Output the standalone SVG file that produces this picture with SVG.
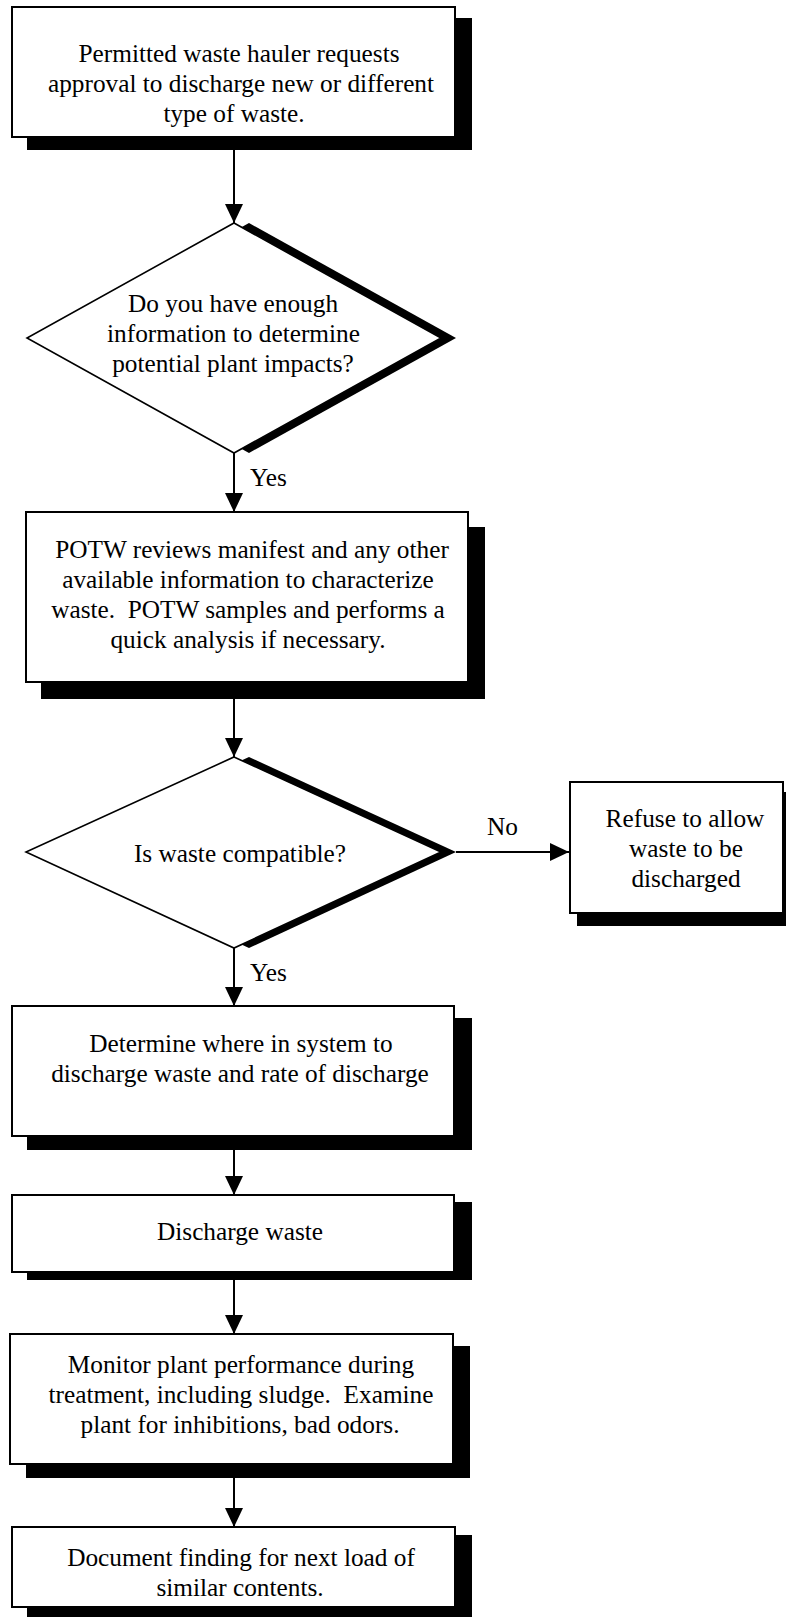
<svg xmlns="http://www.w3.org/2000/svg" width="786" height="1617" viewBox="0 0 786 1617">
<defs>
<style>
.box{fill:#fff;stroke:#000;stroke-width:2}
.shadow{fill:#000}
.dia{fill:#fff;stroke:#000;stroke-width:1.6}
.t{font-family:"Liberation Serif","Times New Roman",serif;font-size:25.3px;fill:#000;text-anchor:middle;white-space:pre}
.lbl{font-family:"Liberation Serif","Times New Roman",serif;font-size:25.3px;fill:#000}
.conn{stroke:#000;stroke-width:2;fill:none}
</style>
<marker id="arr" markerUnits="userSpaceOnUse" markerWidth="19" markerHeight="18" refX="19" refY="9" orient="auto">
<path d="M0,0 L19,9 L0,18 z" fill="#000"/>
</marker>
</defs>
<rect width="786" height="1617" fill="#fff"/>

<g id="n1">
<rect class="shadow" x="27" y="18" width="445" height="132"/>
<rect class="box" x="12" y="7" width="443" height="130"/>
<text class="t" x="239" y="61.5">Permitted waste hauler requests</text>
<text class="t" x="241" y="91.5">approval to discharge new or different</text>
<text class="t" x="234" y="121.5">type of waste.</text>
</g>

<g id="d1">
<polygon class="shadow" points="249,223 456,338 249,453 42,338"/>
<polygon class="dia" points="234,223 441,338 234,453 27,338"/>
<text class="t" x="233" y="312">Do you have enough</text>
<text class="t" x="233.5" y="342">information to determine</text>
<text class="t" x="233" y="372">potential plant impacts?</text>
</g>

<g id="n2">
<rect class="shadow" x="41" y="527" width="444" height="172"/>
<rect class="box" x="26" y="512" width="442" height="170"/>
<text class="t" x="252" y="558">POTW reviews manifest and any other</text>
<text class="t" x="248" y="588">available information to characterize</text>
<text class="t" x="248" y="618" xml:space="preserve">waste.  POTW samples and performs a</text>
<text class="t" x="248" y="648">quick analysis if necessary.</text>
</g>

<g id="d2">
<polygon class="shadow" points="249,757 456,852 249,948 41,852"/>
<polygon class="dia" points="234,757 441,852 234,948 26,852"/>
<text class="t" x="240" y="862">Is waste compatible?</text>
</g>

<g id="n3">
<rect class="shadow" x="577" y="792" width="215" height="134"/>
<rect class="box" x="570" y="782" width="213" height="131"/>
<text class="t" x="685" y="827">Refuse to allow</text>
<text class="t" x="686" y="857">waste to be</text>
<text class="t" x="686" y="887">discharged</text>
</g>

<g id="n4">
<rect class="shadow" x="27" y="1018" width="445" height="132"/>
<rect class="box" x="12" y="1006" width="442" height="130"/>
<text class="t" x="241" y="1052">Determine where in system to</text>
<text class="t" x="240" y="1082">discharge waste and rate of discharge</text>
</g>

<g id="n5">
<rect class="shadow" x="27" y="1202" width="445" height="78"/>
<rect class="box" x="12" y="1195" width="442" height="77"/>
<text class="t" x="240" y="1240">Discharge waste</text>
</g>

<g id="n6">
<rect class="shadow" x="26" y="1346" width="444" height="132"/>
<rect class="box" x="10" y="1334" width="443" height="130"/>
<text class="t" x="241" y="1373">Monitor plant performance during</text>
<text class="t" x="241" y="1403" xml:space="preserve">treatment, including sludge.  Examine</text>
<text class="t" x="240" y="1433">plant for inhibitions, bad odors.</text>
</g>

<g id="n7">
<rect class="shadow" x="27" y="1535" width="445" height="90"/>
<rect class="box" x="12" y="1527" width="443" height="80"/>
<text class="t" x="241" y="1566">Document finding for next load of</text>
<text class="t" x="240" y="1596">similar contents.</text>
</g>

<g id="connectors">
<line class="conn" x1="234" y1="150" x2="234" y2="223" marker-end="url(#arr)"/>
<line class="conn" x1="234" y1="453" x2="234" y2="512" marker-end="url(#arr)"/>
<line class="conn" x1="234" y1="699" x2="234" y2="757" marker-end="url(#arr)"/>
<line class="conn" x1="456" y1="852" x2="569" y2="852" marker-end="url(#arr)"/>
<line class="conn" x1="234" y1="948" x2="234" y2="1006" marker-end="url(#arr)"/>
<line class="conn" x1="234" y1="1150" x2="234" y2="1195" marker-end="url(#arr)"/>
<line class="conn" x1="234" y1="1280" x2="234" y2="1334" marker-end="url(#arr)"/>
<line class="conn" x1="234" y1="1478" x2="234" y2="1527" marker-end="url(#arr)"/>
<text class="lbl" x="250" y="486">Yes</text>
<text class="lbl" x="487" y="835">No</text>
<text class="lbl" x="250" y="981">Yes</text>
</g>
</svg>
